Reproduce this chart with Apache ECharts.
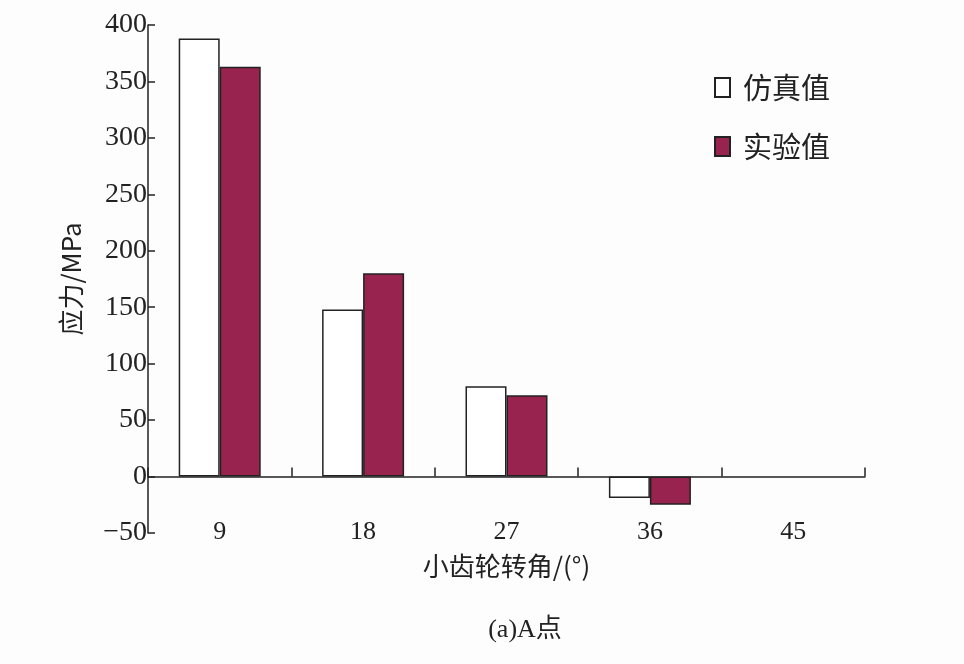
<!DOCTYPE html>
<html>
<head>
<meta charset="utf-8">
<script src="https://cdn.jsdelivr.net/npm/echarts@6/dist/echarts.min.js"></script>
<style>
html,body{margin:0;padding:0;background:#fdfdfd;}
#chart{width:964px;height:664px;}
</style>
</head>
<body>
<div id="chart"></div>
<script>
// 小齿轮转角 vs 应力
var angles = ['9', '18', '27', '36', '45'];
var simValues = [388, 148, 80, -19, null];
var expValues = [363, 180, 72, -25, null];
var yTicks = [-50, 0, 50, 100, 150, 200, 250, 300, 350, 400];

var serif = "'Liberation Serif', 'Noto Sans CJK SC', serif";
var cjk = "'Noto Sans CJK SC', sans-serif";

var chart = echarts.init(document.getElementById('chart'));
var option = {
  backgroundColor: '#fdfdfd',
  animation: false,
  title: {
    text: '(a)A点',
    left: 520,
    textAlign: 'center',
    top: 612,
    textStyle: { fontFamily: serif, fontSize: 26, fontWeight: 'normal', color: '#222' }
  },
  legend: {
    orient: 'vertical',
    left: 709,
    top: 68,
    itemWidth: 15,
    itemHeight: 19,
    itemGap: 30,
    icon: 'rect',
    textStyle: { fontFamily: cjk, fontSize: 29, color: '#222', padding: [0, 0, 0, 8] },
    data: ['仿真值', '实验值']
  },
  grid: { left: 148, right: 99, top: 25, bottom: 131, containLabel: false },
  xAxis: {
    type: 'category',
    data: angles,
    name: '小齿轮转角/(°)',
    nameLocation: 'middle',
    nameGap: 20,
    nameTextStyle: { fontFamily: cjk, fontSize: 26, color: '#222' },
    axisLine: { show: true, onZero: true, lineStyle: { color: '#222', width: 1.5 } },
    axisTick: { show: true, interval: 0, inside: true, length: 9, lineStyle: { color: '#222', width: 1.5 } },
    axisLabel: { margin: -14, fontFamily: serif, fontSize: 26, color: '#222' }
  },
  yAxis: {
    type: 'value',
    min: yTicks[0],
    max: yTicks[yTicks.length - 1],
    interval: 50,
    name: '应力/MPa',
    nameLocation: 'middle',
    nameGap: 64,
    nameTextStyle: { fontFamily: cjk, fontSize: 26, color: '#222' },
    splitLine: { show: false },
    axisLine: { show: true, lineStyle: { color: '#222', width: 1.5 } },
    axisTick: { show: true, inside: true, length: 7, lineStyle: { color: '#222', width: 1.5 } },
    axisLabel: {
      margin: 1,
      fontFamily: serif,
      fontSize: 28,
      color: '#222',
      formatter: function (v) { return v < 0 ? '\u2212' + Math.abs(v) : v; }
    }
  },
  series: [
    {
      name: '仿真值',
      type: 'bar',
      data: simValues,
      barWidth: 41,
      barGap: '0%',
      itemStyle: { color: '#ffffff', borderColor: '#222', borderWidth: 1.5 }
    },
    {
      name: '实验值',
      type: 'bar',
      data: expValues,
      barWidth: 41,
      barGap: '0%',
      itemStyle: { color: '#98234f', borderColor: '#222', borderWidth: 1.5 }
    }
  ]
};
chart.setOption(option);
</script>
</body>
</html>
